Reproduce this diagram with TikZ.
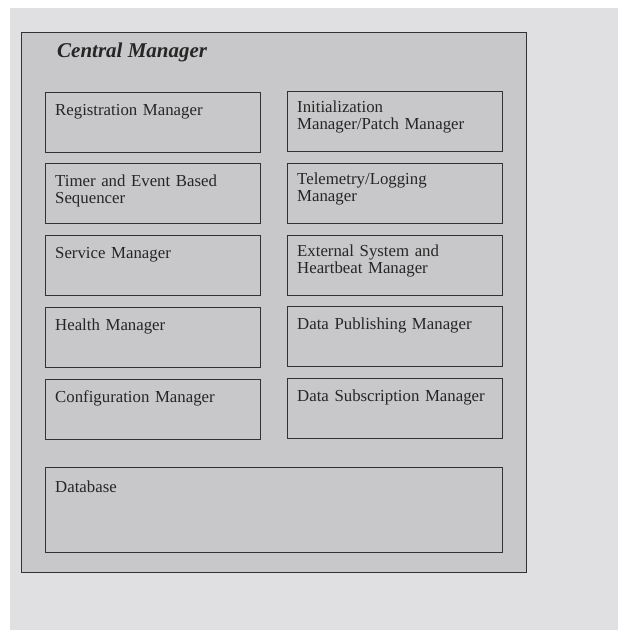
\documentclass[tikz,border=0pt]{standalone}
\usepackage{fontspec}
\setmainfont{Liberation Serif}
\definecolor{pagegray}{RGB}{224,224,226}
\definecolor{boxgray}{RGB}{200,200,202}
\definecolor{linegray}{RGB}{50,50,50}
\tikzset{
  mgr/.style={draw=linegray, fill=boxgray, line width=0.9pt, anchor=north west,
    minimum width=215pt, minimum height=60pt, inner sep=0pt},
  mgrtext/.style={anchor=base west, inner sep=0pt, text width=205pt, align=left,
    text=black!85, font=\fontsize{16.8}{17}\selectfont}
}
\begin{document}
\begin{tikzpicture}[x=1pt,y=-1pt]
  \useasboundingbox (0,0) rectangle (618,630);
  \fill[white] (0,0) rectangle (618,630);
  \fill[pagegray] (10,8) rectangle (618,630);
  % outer frame
  \node[mgr, minimum width=505pt, minimum height=540pt] (central) at (21,32) {};
  \node[anchor=base west, inner sep=0pt, text=black!85,
    font=\bfseries\itshape\fontsize{21}{24}\selectfont]
    (title) at (57,57) {Central Manager};
  % left column
  \node[mgr] (reg) at (45,92) {};
  \node[mgr] (timer) at (45,163) {};
  \node[mgr] (service) at (45,235) {};
  \node[mgr] (health) at (45,307) {};
  \node[mgr] (config) at (45,379) {};
  % right column
  \node[mgr] (init) at (287,91) {};
  \node[mgr] (telem) at (287,163) {};
  \node[mgr] (extsys) at (287,235) {};
  \node[mgr] (datapub) at (287,306) {};
  \node[mgr] (datasub) at (287,378) {};
  % database
  \node[mgr, minimum width=457pt, minimum height=85pt] (db) at (45,467) {};
  % labels
  \node[mgrtext] (reglbl) at ([shift={(10,23)}]reg.north west) {Registration Manager};
  \node[mgrtext] (timerlbl) at ([shift={(10,23)}]timer.north west) {Timer and Event Based\\Sequencer};
  \node[mgrtext] (servicelbl) at ([shift={(10,23)}]service.north west) {Service Manager};
  \node[mgrtext] (healthlbl) at ([shift={(10,23)}]health.north west) {Health Manager};
  \node[mgrtext] (configlbl) at ([shift={(10,23)}]config.north west) {Configuration Manager};
  \node[mgrtext] (initlbl) at ([shift={(10,21)}]init.north west) {Initialization\\Manager/Patch Manager};
  \node[mgrtext] (telemlbl) at ([shift={(10,21)}]telem.north west) {Telemetry/Logging\\Manager};
  \node[mgrtext] (extsyslbl) at ([shift={(10,21)}]extsys.north west) {External System and\\Heartbeat Manager};
  \node[mgrtext] (datapublbl) at ([shift={(10,23)}]datapub.north west) {Data Publishing Manager};
  \node[mgrtext] (datasublbl) at ([shift={(10,23)}]datasub.north west) {Data Subscription Manager};
  \node[mgrtext] (dblbl) at ([shift={(10,25)}]db.north west) {Database};
\end{tikzpicture}
\end{document}
